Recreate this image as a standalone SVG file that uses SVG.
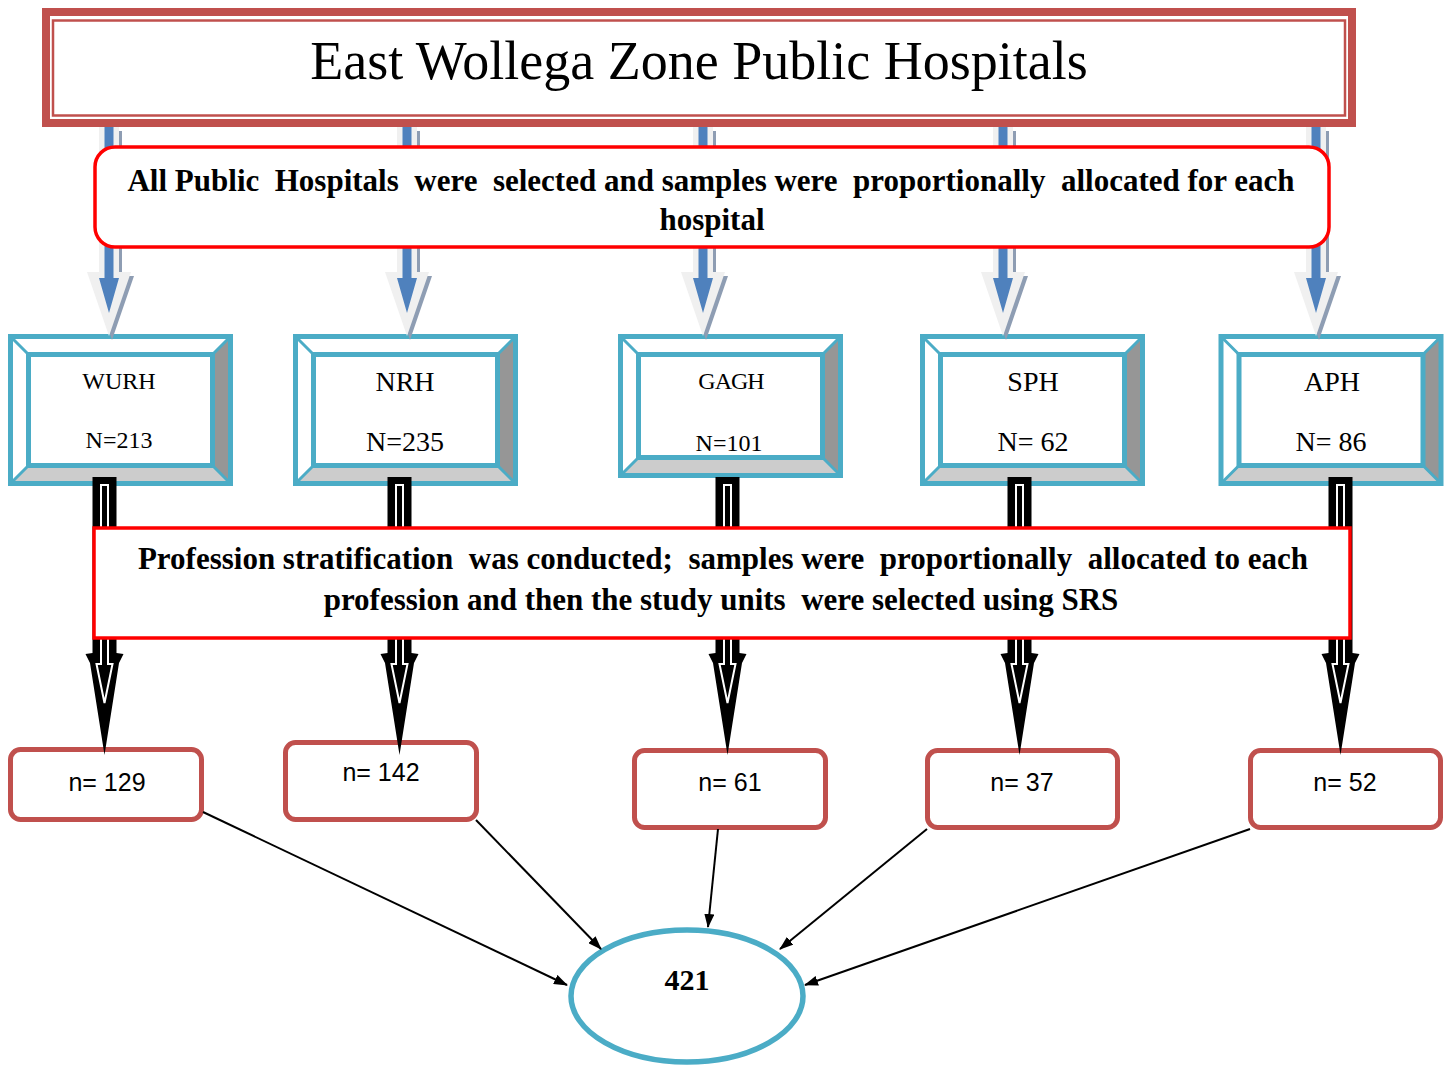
<svg xmlns="http://www.w3.org/2000/svg" xmlns:xlink="http://www.w3.org/1999/xlink" width="1448" height="1065" viewBox="0 0 1448 1065">
<style>
.serif{font-family:"Liberation Serif","Times New Roman",serif;fill:#000}
.b{font-weight:bold}
.pre{white-space:pre}
.sans{font-family:"Liberation Sans",Arial,sans-serif;font-size:25px;fill:#000}
.teal{fill:none;stroke:#4BACC6;stroke-width:5}
.tealthin{fill:none;stroke:#4BACC6;stroke-width:3}
.nbox{fill:#fff;stroke:#C0504D;stroke-width:5}
.tbox{fill:#fff;stroke:#FF0000;stroke-width:3.5}
.conn{stroke:#000;stroke-width:2;fill:none;marker-end:url(#ah)}
.gray{fill:#F0F0F0}
.shadow{fill:#8E9DB3}
.blue{fill:#4F81BD}
.blk{fill:#000}
.blkin{fill:#000;stroke:#fff;stroke-width:2}
</style>
<defs>
<marker id="ah" markerWidth="14" markerHeight="10" refX="13" refY="5" orient="auto" markerUnits="userSpaceOnUse"><path d="M0,0 L14,5 L0,10 z" fill="#000"/></marker>
<g id="bevel">
<polygon points="0,0 220,0 202,18 18,18" fill="#fff"/>
<polygon points="0,0 18,18 18,129 0,147" fill="#fff"/>
<polygon points="220,0 220,147 202,129 202,18" fill="#969696"/>
<polygon points="0,147 220,147 202,129 18,129" fill="#CCCCCC"/>
<rect x="18" y="18" width="184" height="111" fill="#fff"/>
<path class="tealthin" d="M0,0 L18,18 M220,0 L202,18 M220,147 L202,129 M0,147 L18,129"/>
<rect class="teal" x="0" y="0" width="220" height="147"/>
<rect class="teal" x="18" y="18" width="184" height="111"/>
</g>
<g id="bevelShort">
<polygon points="0,0 220,0 202,18 18,18" fill="#fff"/>
<polygon points="0,0 18,18 18,121 0,139" fill="#fff"/>
<polygon points="220,0 220,139 202,121 202,18" fill="#969696"/>
<polygon points="0,139 220,139 202,121 18,121" fill="#CCCCCC"/>
<rect x="18" y="18" width="184" height="103" fill="#fff"/>
<path class="tealthin" d="M0,0 L18,18 M220,0 L202,18 M220,139 L202,121 M0,139 L18,121"/>
<rect class="teal" x="0" y="0" width="220" height="139"/>
<rect class="teal" x="18" y="18" width="184" height="103"/>
</g>
<g id="blueArrow">
<polygon class="shadow" transform="translate(3,4)" points="-10,127 10,127 10,272 22,272 0,336 -22,272 -10,272"/>
<polygon class="gray" points="-10,127 10,127 10,272 22,272 0,336 -22,272 -10,272"/>
<polygon class="blue" points="-4.5,127 4.5,127 4.5,278 10,278 0,313 -10,278 -4.5,278"/>
</g>
<g id="blackArrow">
<polygon class="blk" points="-12,477 12,477 12,653 19,654 14.5,663 0,755 -14.5,663 -19,654 -12,653"/>
<path class="blkin" d="M-3.5,485 L3.5,485 L3.5,664 L8,664 L0,703 L-8,664 L-3.5,664 Z"/>
</g>
</defs>

<rect width="1448" height="1065" fill="#fff"/>

<g id="title">
<rect x="46" y="12" width="1306" height="111" fill="#fff" stroke="#C0504D" stroke-width="8"/>
<rect x="53" y="20.5" width="1292" height="95" fill="none" stroke="#C0504D" stroke-width="2.5"/>
<text class="serif" x="699" y="79" font-size="54" text-anchor="middle">East Wollega Zone Public Hospitals</text>
</g>

<g id="wurh">
<use xlink:href="#bevel" transform="translate(10.5,336.5)"/>
<text class="serif" x="119" y="389" font-size="24" text-anchor="middle">WURH</text>
<text class="serif" x="119" y="448" font-size="24" text-anchor="middle">N=213</text>
</g>
<g id="nrh">
<use xlink:href="#bevel" transform="translate(295.5,336.5)"/>
<text class="serif" x="405" y="391" font-size="28" text-anchor="middle">NRH</text>
<text class="serif" x="405" y="451" font-size="28" text-anchor="middle">N=235</text>
</g>
<g id="gagh">
<use xlink:href="#bevelShort" transform="translate(620.5,336.5)"/>
<text class="serif" x="731" y="389" font-size="24" text-anchor="middle" letter-spacing="-1">GAGH</text>
<text class="serif" x="729" y="451" font-size="24" text-anchor="middle">N=101</text>
</g>
<g id="sph">
<use xlink:href="#bevel" transform="translate(922.5,336.5)"/>
<text class="serif" x="1033" y="391" font-size="28" text-anchor="middle">SPH</text>
<text class="serif" x="1033" y="451" font-size="28" text-anchor="middle">N= 62</text>
</g>
<g id="aph">
<use xlink:href="#bevel" transform="translate(1221,336.5)"/>
<text class="serif" x="1332" y="391" font-size="28" text-anchor="middle">APH</text>
<text class="serif" x="1331" y="451" font-size="28" text-anchor="middle">N= 86</text>
</g>

<g id="n129">
<rect class="nbox" x="10.5" y="749.5" width="191" height="70" rx="10"/>
<text class="sans" x="107" y="791" text-anchor="middle">n= 129</text>
</g>
<g id="n142">
<rect class="nbox" x="285.5" y="742.5" width="191" height="77" rx="10"/>
<text class="sans" x="381" y="781" text-anchor="middle">n= 142</text>
</g>
<g id="n61">
<rect class="nbox" x="634.5" y="750.5" width="191" height="77" rx="10"/>
<text class="sans" x="730" y="791" text-anchor="middle">n= 61</text>
</g>
<g id="n37">
<rect class="nbox" x="927.5" y="750.5" width="190" height="77" rx="10"/>
<text class="sans" x="1022" y="791" text-anchor="middle">n= 37</text>
</g>
<g id="n52">
<rect class="nbox" x="1250.5" y="750.5" width="190" height="77" rx="10"/>
<text class="sans" x="1345" y="791" text-anchor="middle">n= 52</text>
</g>

<g id="total">
<ellipse cx="687" cy="996" rx="116" ry="66" fill="#fff" stroke="#4BACC6" stroke-width="5.5"/>
<text class="serif b" x="687" y="990" font-size="30" text-anchor="middle">421</text>
</g>

<g id="connectors">
<use xlink:href="#blueArrow" transform="translate(109,0)"/>
<use xlink:href="#blueArrow" transform="translate(407,0)"/>
<use xlink:href="#blueArrow" transform="translate(703,0)"/>
<use xlink:href="#blueArrow" transform="translate(1003,0)"/>
<use xlink:href="#blueArrow" transform="translate(1316,0)"/>
<use xlink:href="#blackArrow" transform="translate(104.5,0)"/>
<use xlink:href="#blackArrow" transform="translate(399.5,0)"/>
<use xlink:href="#blackArrow" transform="translate(727.5,0)"/>
<use xlink:href="#blackArrow" transform="translate(1019.5,0)"/>
<use xlink:href="#blackArrow" transform="translate(1340.5,0)"/>
<line class="conn" x1="203" y1="812" x2="567" y2="985"/>
<line class="conn" x1="476" y1="820" x2="601" y2="949"/>
<line class="conn" x1="718" y1="829" x2="708" y2="927"/>
<line class="conn" x1="927" y1="829" x2="780" y2="949"/>
<line class="conn" x1="1250" y1="829" x2="805" y2="985"/>
</g>

<g id="selection">
<rect class="tbox" x="95" y="147" width="1234" height="100" rx="20"/>
<text class="serif b pre" x="711" y="191" font-size="31" text-anchor="middle">All Public  Hospitals  were  selected and samples were  proportionally  allocated for each</text>
<text class="serif b" x="712" y="230" font-size="31" text-anchor="middle">hospital</text>
</g>

<g id="stratification">
<rect class="tbox" x="94" y="528" width="1256" height="110"/>
<text class="serif b pre" x="723" y="569" font-size="31" text-anchor="middle">Profession stratification  was conducted;  samples were  proportionally  allocated to each</text>
<text class="serif b pre" x="721" y="610" font-size="31" text-anchor="middle">profession and then the study units  were selected using SRS</text>
</g>
</svg>
